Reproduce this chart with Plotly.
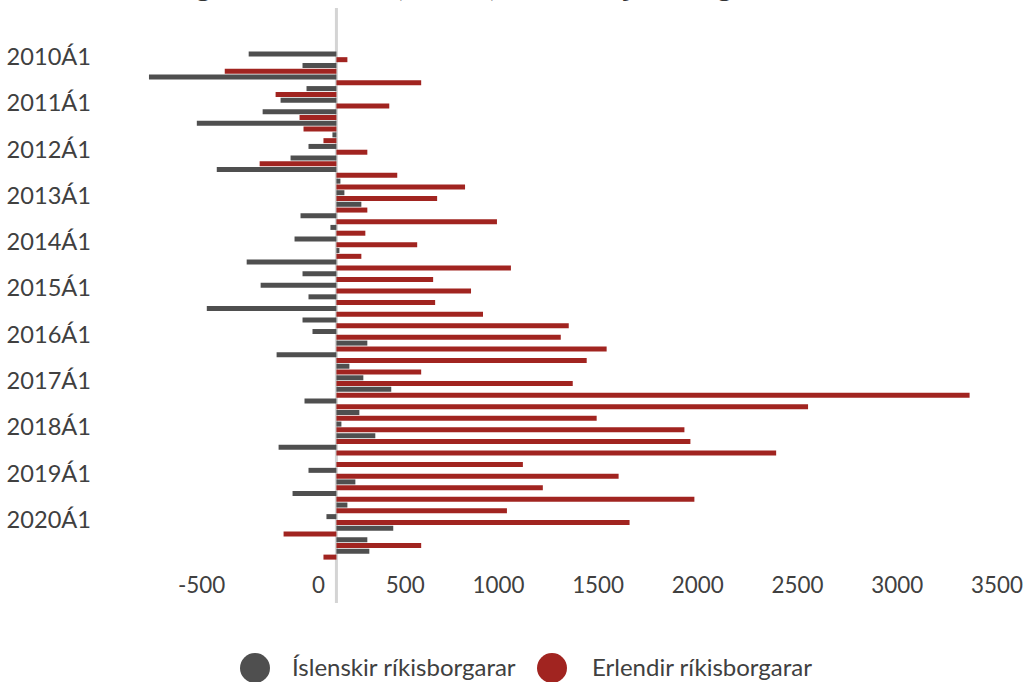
import plotly.graph_objects as go

years = list(range(2010, 2021))
quarters = [f"{y}Á{q}" for y in years for q in range(1, 5)]

islenskir = [-440, -170, -940, -150,
             -280, -370, -700, -20,
             -140, -230, -600, 20,
             40, 125, -180, -30,
             -210, 15, -450, -170,
             -380, -140, -650, -170,
             -120, 155, -300, 65,
             135, 275, -160, 115,
             25, 195, -290, 0,
             -140, 95, -220, 55,
             -50, 285, 155, 165]

erlendir = [55, -560, 425, -305,
            265, -185, -165, -65,
            155, -385, 305, 645,
            505, 155, 805, 145,
            405, 125, 875, 485,
            675, 495, 735, 1165,
            1125, 1355, 1255, 425,
            1185, 3175, 2365, 1305,
            1745, 1775, 2205, 935,
            1415, 1035, 1795, 855,
            1470, -265, 425, -65]

x_ticks = [-500, 0, 500, 1000, 1500, 2000, 2500, 3000, 3500]
y_ticks = [q for q in quarters if q.endswith("Á1")]

names = ["Íslenskir ríkisborgarar", "Erlendir ríkisborgarar"]
title_text = "Fólksflutningar til landsins, nettó, eftir ársfjórðungi"
GREY = "#4f4f4f"
RED = "#a12420"
TXT = "#404040"
FONT = "Lato"

fig = go.Figure()
fig.add_trace(go.Bar(y=quarters, x=islenskir, orientation="h", name=names[0],
                     marker=dict(color=GREY, line=dict(width=0)), showlegend=False))
fig.add_trace(go.Bar(y=quarters, x=erlendir, orientation="h", name=names[1],
                     marker=dict(color=RED, line=dict(width=0)), showlegend=False))

W, H = 1035, 682
L, top, bottom = 137, 51, 560
ph = bottom - top
pw = W - L


def px_x(p):
    return (p - L) / pw


def px_y(p):
    return (bottom - p) / ph


# zero line running past the plot area
fig.add_shape(type="line", xref="x", yref="paper", x0=0, x1=0,
              y0=px_y(603), y1=px_y(8),
              line=dict(color="#d4d4d4", width=3), layer="below")

# title, cut off at the top edge as in the reference
fig.add_annotation(text=f"<b>{title_text}</b>", xref="paper", yref="paper",
                   x=px_x(25), y=px_y(5), xanchor="left", yanchor="bottom",
                   showarrow=False, font=dict(size=32, color="#333333", family=FONT))

# legend: big circles + labels
legend_items = [(names[0], GREY, 255, 290), (names[1], RED, 552, 590)]
for nm, col, cx, tx in legend_items:
    fig.add_shape(type="circle", xref="paper", yref="paper",
                  xsizemode="pixel", ysizemode="pixel",
                  xanchor=px_x(cx), yanchor=px_y(668),
                  x0=-15, x1=15, y0=-15, y1=15,
                  fillcolor=col, line=dict(width=0))
    fig.add_annotation(text=nm, xref="paper", yref="paper",
                       x=px_x(tx), y=px_y(667), xanchor="left", yanchor="middle",
                       showarrow=False, font=dict(size=24, color=TXT, family=FONT))

fig.update_layout(
    width=W, height=H,
    margin=dict(l=L, r=0, t=top, b=H - bottom, pad=0),
    paper_bgcolor="white", plot_bgcolor="white",
    barmode="group", bargap=0.0, bargroupgap=0.135,
    showlegend=False,
    font=dict(family=FONT, color=TXT),
    xaxis=dict(range=[-1000, 3503], tickvals=x_ticks,
               ticktext=[f"{v}\u00a0\u00a0" for v in x_ticks],
               showgrid=False, zeroline=False, showline=False, ticks="",
               ticklabelposition="outside left", ticklabelstandoff=10,
               tickfont=dict(size=22.4, color=TXT, family=FONT)),
    yaxis=dict(type="category", categoryorder="array", categoryarray=quarters,
               autorange="reversed", tickvals=y_ticks, showgrid=False,
               zeroline=False, showline=False, ticks="", ticklabelstandoff=45,
               tickfont=dict(size=23.6, color=TXT, family=FONT)),
)

fig.write_html("out.html", config={"displayModeBar": False},
               post_script="document.body.style.margin='0';document.body.style.overflow='hidden';")
